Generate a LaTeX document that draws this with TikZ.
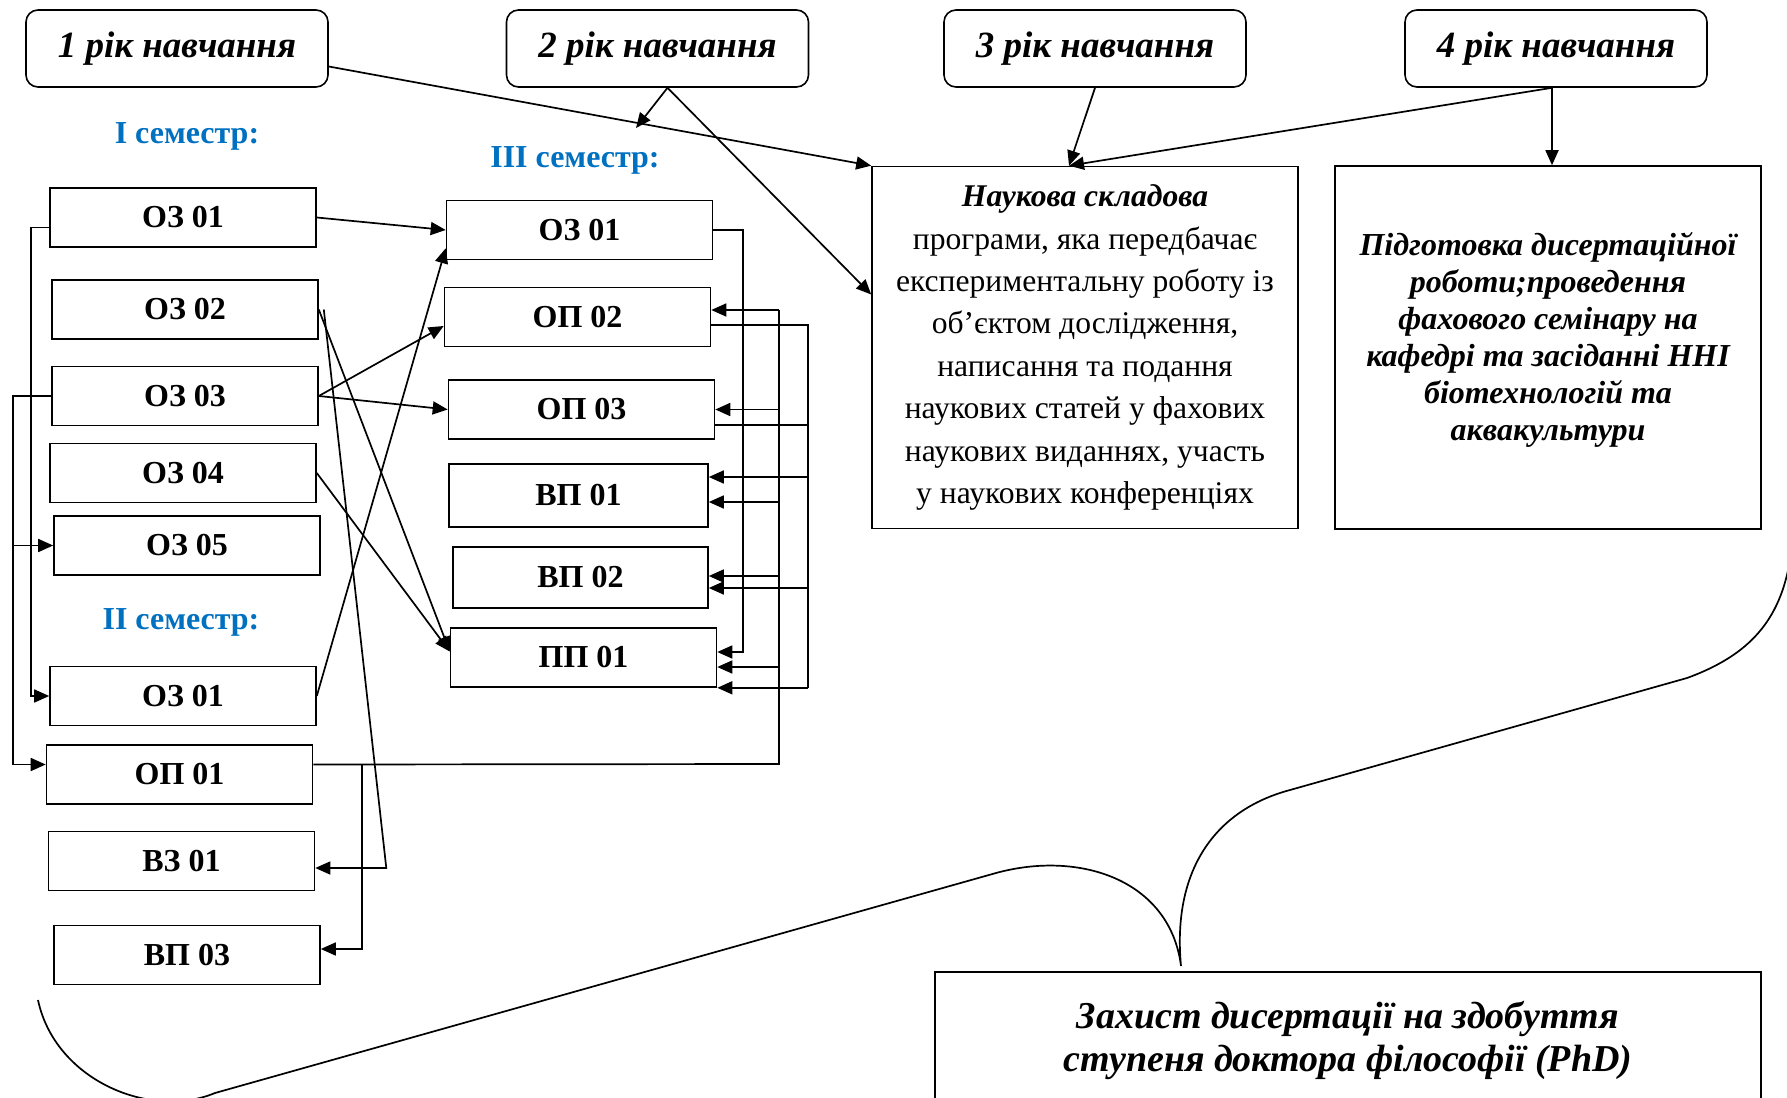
\documentclass[tikz,border=0pt]{standalone}
\usepackage{fontspec}
\setmainfont{Liberation Serif}
\usetikzlibrary{arrows.meta}
\definecolor{semblue}{RGB}{0,112,192}
\begin{document}
\begin{tikzpicture}
      [x=0.5pt,y=-0.5pt,
      year/.style={draw,rounded corners=6pt,line width=0.8pt,minimum width=151pt,minimum height=38.5pt,
        font=\fontsize{18.5}{22}\selectfont\bfseries\itshape},
      subj/.style={draw,line width=0.8pt,minimum width=133pt,minimum height=29.5pt,
        font=\fontsize{16}{19}\selectfont\bfseries},
      sem/.style={text=semblue,font=\fontsize{16}{19}\selectfont\bfseries},
      bigbox/.style={draw,line width=0.8pt,minimum width=213pt,minimum height=181pt,align=center},
      arr/.style={-{Triangle[length=7.5pt,width=6.5pt]},line width=0.85pt},
      link/.style={line width=0.85pt}]
      \path[use as bounding box,clip] (0,0) rectangle (1787,1097);
      \node[year] (y1) at (177,48.5) {1 рік навчання};
      \node[year] (y2) at (657.5,48.5) {2 рік навчання};
      \node[year] (y3) at (1095,48.5) {3 рік навчання};
      \node[year] (y4) at (1556,48.5) {4 рік навчання};

      \node[sem] (sem1) at (187,136) {I семестр:};
      \node[sem] (sem3) at (575,160) {III семестр:};
      \node[sem] (sem2) at (181,622) {II семестр:};

      \node[subj] (a1) at (183,217.5) {ОЗ 01};
      \node[subj] (a2) at (185,309.5) {ОЗ 02};
      \node[subj] (a3) at (185,396) {ОЗ 03};
      \node[subj] (a4) at (183,473) {ОЗ 04};
      \node[subj] (a5) at (187,545.5) {ОЗ 05};
      \node[subj] (b1) at (183,696) {ОЗ 01};
      \node[subj] (b2) at (179.5,774.5) {ОП 01};
      \node[subj] (b3) at (181.5,861) {ВЗ 01};
      \node[subj] (b4) at (187,955) {ВП 03};

      \node[subj] (c1) at (579.5,230) {ОЗ 01};
      \node[subj] (c2) at (577.5,317) {ОП 02};
      \node[subj] (c3) at (581.5,409.5) {ОП 03};
      \node[subj,minimum width=129.5pt,minimum height=31.5pt] (c4) at (578.5,495.5) {ВП 01};
      \node[subj,minimum width=127.5pt,minimum height=30.5pt] (c5) at (580.5,577.5) {ВП 02};
      \node[subj] (c6) at (583.5,657.5) {ПП 01};

      \node[bigbox,font=\fontsize{15.8}{21.2}\selectfont] (sci) at (1085,347.5)
        {\textbf{\textit{Наукова складова}}\\програми, яка передбачає\\експериментальну роботу із\\
        об{\char"27}єктом дослідження,\\написання та подання\\наукових статей у фахових\\
        наукових виданнях, участь\\у наукових конференціях};
      \node[bigbox,minimum height=181.5pt] (prep) at (1548,347.5) {};
      \node[align=center,font=\fontsize{16}{18.5}\selectfont\bfseries\itshape] (preptext) at ([yshift=4pt]prep.center)
        {Підготовка дисертаційної\\роботи;проведення\\фахового семінару на\\кафедрі та засіданні ННІ\\
        біотехнологій та\\аквакультури};
      \node[draw,line width=0.8pt,minimum width=413pt,minimum height=68pt,align=center,
        font=\fontsize{19}{21.5}\selectfont\bfseries\itshape] (def) at (1348,1040)
        {Захист дисертації на здобуття\\ступеня доктора філософії (PhD)};

      \coordinate (s3) at (636,128);
      \coordinate (busL1) at (31,0);
      \coordinate (busL2) at (13,0);
      \coordinate (busD) at (362,0);
      \coordinate (busA) at (743,0);
      \coordinate (busB) at (779,764);
      \coordinate (busC) at (808,0);

      \draw[arr] ([yshift=-9pt]y1.east) -- (sci.north west);
      \draw[arr] ([xshift=5pt]y2.south) -- (s3);
      \draw[arr] ([xshift=5pt]y2.south) -- ([yshift=26.5pt]sci.west);
      \draw[arr] (y3.south) -- ([xshift=-8pt]sci.north);
      \draw[arr] ([xshift=-2pt]y4.south) -- ([xshift=-8pt]sci.north);
      \draw[arr] ([xshift=-2pt]y4.south) -- ([xshift=-2pt]y4.south |- prep.north);

      \draw[arr] (a1.east) -- (c1.west);
      \draw[arr] (a3.east) -- ([yshift=-4.5pt]c2.west);
      \draw[arr] (a3.east) -- (c3.west);
      \draw[arr] (b1.east) -- ([yshift=6pt]c1.south west);
      \draw[arr] (a2.east) -- ([yshift=3pt]c6.west);
      \draw[arr] (a4.east) -- ([yshift=3pt]c6.west);
      \draw[arr] ([xshift=2.5pt]a2.east) -- ([xshift=35.5pt,yshift=-3.5pt]b3.east) -- ([yshift=-3.5pt]b3.east);

      \draw[arr] ([yshift=-5pt]a1.west) -- ([yshift=-5pt]a1.west -| busL1) -- (b1.west -| busL1) -- (b1.west);
      \draw[arr] (a3.west) -- (a3.west -| busL2) -- ([yshift=5pt]b2.west -| busL2) -- ([yshift=5pt]b2.west);
      \draw[arr] (a5.west -| busL2) -- (a5.west);

      \draw[link] ([yshift=5pt]b2.east) -- (busB) -- ([yshift=3.5pt]c2.east -| busB);
      \draw[arr] (busB -| busD) -- ([yshift=3pt]b4.east -| busD) -- ([yshift=3pt]b4.east);
      \foreach \t/\s in {c2/3.5pt,c3/0pt,c4/-3.25pt,c5/0.75pt,c6/-4.75pt}
        \draw[arr] ([yshift=\s]\t.east -| busB) -- ([yshift=\s]\t.east);

      \draw[arr] (c1.east) -- (c1.east -| busA) -- ([yshift=2.75pt]c6.east -| busA) -- ([yshift=2.75pt]c6.east);

      \draw[link] ([yshift=-4pt]c2.east) -- ([yshift=-4pt]c2.east -| busC) -- (c6.south east -| busC);
      \draw[link] ([yshift=-7.75pt]c3.east) -- ([yshift=-7.75pt]c3.east -| busC);
      \foreach \t/\s in {c4/9.25pt,c5/-5.25pt}
        \draw[arr] ([yshift=\s]\t.east -| busC) -- ([yshift=\s]\t.east);
      \draw[arr] (c6.south east -| busC) -- (c6.south east);

      \draw[link] (38,1000) .. controls (55,1080) and (150,1120) .. (215,1093) -- (996,873)
        .. controls (1080,850) and (1170,880) .. (1181,966)
        .. controls (1172,870) and (1215,810) .. (1290,790) -- (1687,678)
        .. controls (1750,655) and (1780,620) .. (1790,560);
    \end{tikzpicture}
\end{document}
